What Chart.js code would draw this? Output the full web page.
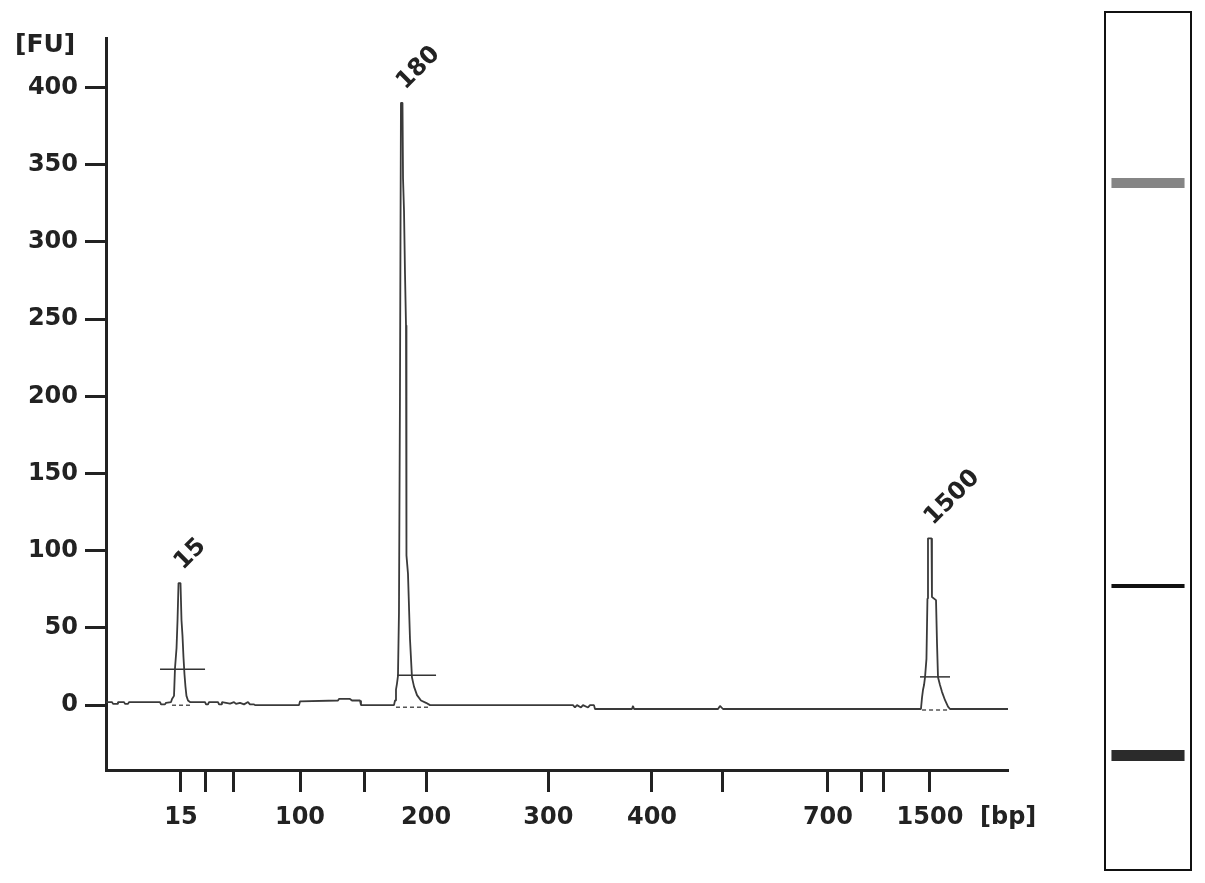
<!DOCTYPE html>
<html>
<head>
<meta charset="utf-8">
<script src="https://cdn.jsdelivr.net/npm/chart.js@4.4.1/dist/chart.umd.min.js"></script>
<style>
html, body { margin: 0; padding: 0; background: #fff; }
#wrap { position: relative; width: 1205px; height: 883px; overflow: hidden; }
#grafico { position: absolute; left: 0; top: 0; width: 1090px; height: 883px; }
#gel { position: absolute; left: 1103px; top: 10px; width: 90px; height: 862px; }
</style>
</head>
<body>
<div id="wrap">
  <canvas id="grafico" width="1090" height="883"></canvas>
  <canvas id="gel" width="90" height="862"></canvas>
</div>
<script>
// Electroferograma: tiempo de migración (s) y fluorescencia (FU)
const tiempos = [
  20.00, 20.67, 20.78, 21.22, 21.33, 22.00, 22.11, 22.44, 22.55, 25.99, 26.10, 26.54, 26.65,
  27.21, 27.32, 27.54, 27.65, 27.82, 27.93, 28.04, 28.26, 28.37, 28.48, 28.59, 28.70, 28.81, 28.92, 29.09, 29.31,
  30.98, 31.09, 31.31, 31.42, 32.42, 32.53, 32.75, 32.86, 33.75, 34.19, 34.41, 34.86, 35.30, 35.74, 35.96, 36.41, 36.52,
  41.40, 41.51, 45.72, 45.83, 47.05, 47.27, 48.16, 48.27,
  51.93, 52.04, 52.15, 52.26, 52.37, 52.48, 52.59, 52.70, 52.87, 52.93, 53.04, 53.15, 53.26, 53.31, 53.48, 53.70, 53.92,
  54.15, 54.48, 54.92, 55.48, 55.92,
  71.77, 71.99, 72.22, 72.66, 72.88, 73.44, 73.66, 74.10, 74.21, 78.31, 78.43, 78.54, 87.85, 88.07, 88.40,
  110.35, 110.47, 110.58, 110.69, 110.80, 110.96, 111.07, 111.13, 111.52, 111.57, 112.02, 112.13, 112.24, 112.46,
  112.68, 113.02, 113.35, 113.57, 120.00
];
const fluorescencia = [
  2, 2, 0.8, 0.8, 2, 2, 0.8, 0.8, 2, 2, 0.5, 0.5, 1.5,
  2, 4, 6, 24, 37, 55, 79, 79, 55, 45, 31, 20, 12, 6, 3, 2,
  2, 0.5, 0.5, 2, 2, 0.5, 0.5, 2, 1, 2, 0.8, 1.5, 0.5, 2, 0.5, 0.5, 0,
  0, 2.5, 3, 4, 4, 3, 3, 0,
  0, 3, 10, 14, 19, 60, 200, 390, 390, 341, 320, 279, 246, 97, 85, 43, 18,
  12, 6.5, 3, 1.5, 0,
  0, -1.5, 0, -1.5, 0, -1.5, 0, 0, -2.5, -2.5, -0.5, -2.5, -2.5, -0.5, -2.5,
  -2.5, 5, 10, 13, 18, 30, 69, 108, 108, 70, 68, 40, 18, 13,
  8.6, 3.2, -1, -2.5, -2.5
];

// Escalera DNA 1000 (posición de cada marca en el eje)
const escaleraTiempos = [28.31, 30.98, 34.11, 41.51, 48.64, 55.48, 69.04, 80.53, 88.40, 100.04, 103.81, 106.25, 111.35];
const escaleraBp = [15, 25, 50, 100, 150, 200, 300, 400, 500, 700, 850, 1000, 1500];
const etiquetasBp = [15, 100, 200, 300, 400, 700, 1500];
const ticksFU = [0, 50, 100, 150, 200, 250, 300, 350, 400];

// Picos identificados
const picosNombre = ['15', '180', '1500'];
const picosTiempo = [28.15, 52.79, 111.32];
const picosAltura = [79, 390, 108];

// Marcas de integración de cada pico
const marcaInicio = [25.99, 52.26, 110.24];
const marcaFin = [30.98, 56.59, 113.57];
const marcaNivel = [23.3, 19.4, 18.3];
const baseInicio = [27.32, 52.15, 110.47];
const baseFin = [29.31, 55.92, 113.35];
const baseNivel = [0, -1.3, -3.2];

// Gel virtual: grosor de cada banda (s)
const gelGrosor = [1.6, 0.58, 1.45];

const fuente = '"DejaVu Sans", Verdana, sans-serif';

// Textos: unidades y nombres de los picos
const textos = {
  id: 'textos',
  afterDraw(chart) {
    const ctx = chart.ctx, x = chart.scales.x, y = chart.scales.y;
    ctx.save();
    ctx.fillStyle = '#222';
    ctx.textAlign = 'left';
    ctx.textBaseline = 'middle';
    ctx.font = 'bold 25px ' + fuente;
    ctx.fillText('[FU]', 15, 45);
    ctx.font = 'bold 24px ' + fuente;
    ctx.fillText('[bp]', 980, 818);
    ctx.font = 'bold 24px ' + fuente;
    picosNombre.forEach((n, i) => {
      ctx.save();
      ctx.translate(x.getPixelForValue(picosTiempo[i]) - 1, y.getPixelForValue(picosAltura[i]) - 17);
      ctx.rotate(-Math.PI / 4);
      ctx.fillText(n, 0, 0);
      ctx.restore();
    });
    ctx.restore();
  }
};

const datasets = [{
  data: tiempos.map((t, i) => ({ x: t, y: fluorescencia[i] })),
  borderColor: '#3a3a3a',
  borderWidth: 1.8,
  borderJoinStyle: 'bevel'
}];
marcaInicio.forEach((t, i) => {
  datasets.push({
    data: [{ x: t, y: marcaNivel[i] }, { x: marcaFin[i], y: marcaNivel[i] }],
    borderColor: '#333',
    borderWidth: 1.5
  });
  datasets.push({
    data: [{ x: baseInicio[i], y: baseNivel[i] }, { x: baseFin[i], y: baseNivel[i] }],
    borderColor: '#555',
    borderWidth: 1.5,
    borderDash: [4, 3]
  });
});

new Chart(document.getElementById('grafico'), {
  type: 'line',
  data: { datasets },
  options: {
    responsive: false,
    animation: false,
    devicePixelRatio: 1,
    events: [],
    layout: { padding: { top: 38, right: 82, bottom: 0, left: 0 } },
    elements: { point: { radius: 0 }, line: { tension: 0 } },
    plugins: { legend: { display: false }, tooltip: { enabled: false } },
    scales: {
      x: {
        type: 'linear',
        min: 20,
        max: 120,
        afterFit(s) { s.height = 113; },
        afterBuildTicks(s) { s.ticks = escaleraTiempos.map(v => ({ value: v })); },
        ticks: {
          autoSkip: false,
          maxRotation: 0,
          padding: 11,
          color: '#222',
          font: { family: fuente, size: 24, weight: 'bold' },
          callback: (v, i) => etiquetasBp.includes(escaleraBp[i]) ? String(escaleraBp[i]) : ''
        },
        grid: { drawOnChartArea: false, drawTicks: true, tickLength: 22, tickWidth: 3, tickColor: '#222' },
        border: { display: true, color: '#222', width: 3 }
      },
      y: {
        min: -42,
        max: 432,
        afterFit(s) { s.width = 106; },
        afterBuildTicks(s) { s.ticks = ticksFU.map(v => ({ value: v })); },
        ticks: {
          padding: 7,
          color: '#222',
          font: { family: fuente, size: 24, weight: 'bold' }
        },
        grid: { drawOnChartArea: false, drawTicks: true, tickLength: 21, tickWidth: 3, tickColor: '#222' },
        border: { display: true, color: '#222', width: 3 }
      }
    }
  },
  plugins: [textos]
});

// Marco del carril del gel
const marcoGel = {
  id: 'marcoGel',
  afterDraw(chart) {
    const ctx = chart.ctx;
    ctx.save();
    ctx.strokeStyle = '#111';
    ctx.lineWidth = 2;
    ctx.strokeRect(2, 2, 86, 858);
    ctx.restore();
  }
};

const coloresGel = ['#2b2b2b', '#111111', '#858585'];

new Chart(document.getElementById('gel'), {
  type: 'bar',
  data: {
    labels: ['muestra'],
    datasets: picosTiempo.map((t, i) => ({
      data: [[t - gelGrosor[i] / 2, t + gelGrosor[i] / 2]],
      backgroundColor: coloresGel[i],
      grouped: false,
      barPercentage: 0.87,
      categoryPercentage: 1
    }))
  },
  options: {
    responsive: false,
    animation: false,
    devicePixelRatio: 1,
    events: [],
    layout: { padding: 3 },
    plugins: { legend: { display: false }, tooltip: { enabled: false } },
    scales: {
      x: { display: false },
      y: { display: false, min: 11.66, max: 136.02 }
    }
  },
  plugins: [marcoGel]
});
</script>
</body>
</html>
